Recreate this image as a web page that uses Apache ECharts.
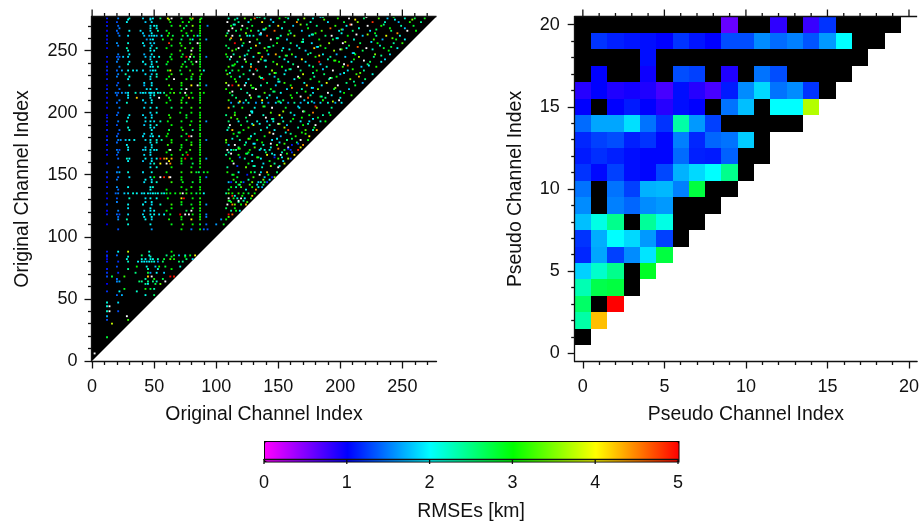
<!DOCTYPE html>
<html><head><meta charset="utf-8">
<style>html,body{margin:0;padding:0;background:#fff}#c{width:922px;height:522px}</style>
<script src="https://cdn.jsdelivr.net/npm/echarts@6/dist/echarts.min.js"></script>
</head><body><div id="c"></div>
<script>
const NA = -1;
const colorStops = ['#ff00ff','#0000ff','#00ffff','#00ff00','#ffff00','#ff0000'];
const colorbarTicks = [0,1,2,3,4,5];
const originalMajorTicks = [0,50,100,150,200,250];
const originalMinorTicks = [10,20,30,40,60,70,80,90,110,120,130,140,160,170,180,190,210,220,230,240,260,270];
const pseudoMajorTicks = [0,5,10,15,20];
const pseudoMinorTicks = [1,2,3,4,6,7,8,9,11,12,13,14,16,17,18,19];
const originalCorners = [[-0.5,-0.5],[277.5,277.5],[-0.5,277.5]];

const pseudoRow1 = [NA];
const pseudoRow2 = [2.35,4.25];
const pseudoRow3 = [2.6,NA,5];
const pseudoRow4 = [2.3,2.7,2.75,NA];
const pseudoRow5 = [1.82,2.2,2.45,NA,2.85];
const pseudoRow6 = [1.15,1.65,1.25,1.55,1.9,2.75];
const pseudoRow7 = [1.2,1.68,2,1.85,1.6,1.25,NA];
const pseudoRow8 = [1.75,2.1,2.45,NA,2.4,2.1,NA,NA];
const pseudoRow9 = [1.55,NA,1.5,1.4,1.55,1.6,NA,NA,NA];
const pseudoRow10 = [1.45,NA,1.45,1.25,1.7,1.72,1.5,2.75,NA,NA];
const pseudoRow11 = [1.2,1.03,1.25,1.05,1.02,1.28,1.7,1.85,2,2.45,NA];
const pseudoRow12 = [1.1,1.18,1.12,1.05,1.02,1.02,1.42,1.12,1.1,1.38,NA,NA];
const pseudoRow13 = [1.15,1.25,1.3,1.12,1.2,1.02,1.5,1.15,1.4,1.45,1.8,NA];
const pseudoRow14 = [1.42,1.65,1.65,1.88,1.45,1.2,2.35,1.6,1.25,NA,NA,NA,NA,NA];
const pseudoRow15 = [1,NA,1,1.1,1,0.85,1.05,1,NA,1.45,1.75,NA,2,2,3.7];
const pseudoRow16 = [0.85,1,0.88,0.92,0.88,0.72,1.05,0.85,0.72,1.1,1.55,1.85,1.45,1.55,1.2,NA];
const pseudoRow17 = [NA,1,NA,NA,0.95,NA,1.3,1.25,NA,0.88,NA,1.45,1.3,NA,NA,NA,NA];
const pseudoRow18 = [NA,NA,NA,NA,1.05,NA,NA,NA,NA,NA,NA,NA,NA,NA,NA,NA,NA,NA];
const pseudoRow19 = [NA,1.2,1.12,1.08,1.05,1,1.2,1.08,1,1.3,1.3,1.55,1.42,1.5,1.33,1.6,2,NA,NA];
const pseudoRow20 = [NA,NA,NA,NA,NA,NA,NA,NA,NA,0.6,NA,NA,0.82,NA,0.78,1.2,NA,NA,NA,NA];

// each row: channel y, then pairs of channel x and RMSE (above 5 is off the scale, drawn white)
const originalRowsTop = [
[276,12,1.1,21,1.5,30,2.2,41,1.9,47,1.8,49,2,55,2.6,61,4,64,6,72,2.8,79,3.1,81,4.3,88,2.9,110,2.3,117,2.1,123,3.4,131,4.6,139,2.4,151,3,158,2.2,171,3.6,178,2.1,198,3.1,207,6,219,2.6,231,3.3,238,1.8,252,2.2,260,2.7,268,2.9],
[273,12,1,20,1.3,28,2,43,1.8,48,1.9,63,3,73,3,78,2.9,87,3,109,6,118,2.4,126,2,137,3.9,146,1.9,155,2.6,165,4.4,176,2.3,190,1.9,203,2.7,214,3.5,226,4.8,236,2.2,247,1.7,256,3.1,265,2.4],
[270,12,1.1,21,1.4,47,1.9,50,2,52,2.1,64,2.9,71,3.2,76,2.6,81,3.5,87,3,93,1.5,112,3,121,6,129,2.8,143,2.2,150,4.1,162,1.8,181,2.5,196,3.2,205,2,222,6,233,3.1,249,2.3,259,2.8],
[266,12,1,20,1.4,30,2,39,1.9,47,1.9,53,2.3,60,2.8,72,3,80,3.2,87,3.1,110,6,116,2.6,128,3.1,134,2.2,147,4.6,159,2.9,169,1.8,185,3.3,199,2.1,210,2.6,224,1.9,241,2.6,254,6,261,3],
[262,12,1.1,22,1.5,29,1.9,42,1.8,46,1.7,48,1.9,50,2,52,1.8,56,2,61,3.1,65,2.7,73,2.9,77,2.2,82,3,85,1.9,87,2.9,108,3.3,113,6,119,2.5,125,2.2,127,2,130,2.3,141,4.8,152,2.2,163,3.6,175,2,188,2.6,193,6,206,3,218,1.8,229,2.4,237,3.9,248,2.1],
[259,12,1,44,1.6,47,1.8,49,2,57,2.8,64,3.2,72,2.5,79,3,81,2,87,3,92,1.6,111,2.7,120,4,133,3.1,144,6,157,1.8,170,2.3,183,3,194,2.8,211,2.2,227,3.2,234,1.7,245,2.9,252,2],
[256,12,1.2,20,1.6,29,2.1,41,2,47,1.9,50,1.8,62,4.8,71,3.1,79,2.8,85,6,87,3,115,5,122,2.9,135,2.2,149,3.1,160,2.6,177,1.9,191,3.6,202,6,216,2.7,230,3,243,2.4,250,3.2],
[252,12,1,28,2.3,47,2,52,2.2,60,3,75,3.2,81,3.2,87,2.9,110,2.6,118,6,128,2.5,139,3.4,154,2,167,2.2,179,4.2,188,2.9,205,2.1,221,6,235,2.8,246,2],
[247,21,1.5,30,2,42,1.7,48,2,64,3,73,2.8,80,3.4,87,3,108,3.1,114,2.3,125,2.6,142,1.9,148,4.3,161,3.2,174,2.4,186,2,197,1.7,212,3,228,3.5,240,1.9],
[245,12,1.1,20,1.3,22,1.4,25,1.8,29,1.9,43,1.8,47,1.8,50,2,54,2.1,63,2.7,72,2.9,76,5,79,6,82,2.8,87,3.1,92,1.5,109,2.8,112,6,119,3.3,130,2.1,137,4.5,151,2.5,164,1.9,180,3.1,192,2.4,204,1.8,215,3.7,227,2.5],
[241,12,1,20,1.5,30,2,41,2,48,1.9,52,2,61,3,75,2.5,80,2.9,84,6,87,2.8,117,2.4,124,3.2,134,6,146,2.9,158,2.2,172,1.9,183,4.9,199,3,209,2.1,224,2.7,233,2],
[237,12,1.1,22,1.5,47,2,49,1.9,53,2.4,72,3.1,76,2.9,87,3,110,3.3,121,2,128,4.4,140,2.3,153,3.1,166,6,178,2.6,189,2.2,202,3.2,217,1.8,229,3.1],
[234,12,1.2,20,1.4,24,1.7,29,2,33,2,36,1.9,41,1.9,47,1.7,49,2,51,2,61,2.9,63,4,71,2.7,79,3.1,87,3.2,90,2,108,2.9,113,2.6,118,3,127,2.2,133,2.4,145,3.6,156,2,168,2.6,181,3,194,6,206,1.9,219,2.4],
[231,12,1,21,1.5,27,2.3,43,1.9,48,1.8,52,2.2,64,3.2,72,2.9,81,3.3,88,3,109,3.4,122,2.7,130,6,143,2.4,155,2.1,170,3.8,187,2.6,200,1.7,213,3.2,226,2.1],
[227,12,1.1,29,2,47,1.9,60,2.8,66,6,76,3.1,80,2.5,87,2.8,115,3,126,2.1,138,5,150,2.7,163,2,176,2.9,191,2.3,208,3.4,220,2.6],
[222,12,1,20,1.4,30,2.1,42,1.7,48,2,62,3.3,72,3,80,4,85,6,87,3.1,92,1.6,110,6,113,5,118,4,123,6,128,3.2,136,2.2,148,1.8,160,3,173,4.2,185,2,198,6,212,2.8],
[219,12,1.1,22,1.4,44,1.9,47,2,52,1.9,64,3.1,72,2.6,76,6,87,3,108,3.1,120,2.4,132,6,144,2.9,157,1.9,169,2.3,182,3.5,195,2.7,207,1.8],
[216,12,1.2,19,1.5,21,1.4,24,1.6,27,1.7,29,2,35,2.2,39,1.8,41,2,43,1.9,46,1.8,47,2,48,1.9,50,2,53,2.1,55,2,58,2.4,63,3,66,3.3,71,2.9,75,6,80,3,87,3.2,90,3,111,3,125,2.3,139,3.3,152,2,165,2.7,178,1.9,190,6,203,3],
[212,12,1,29,1.9,36,4.2,47,1.9,54,6,62,2.8,73,3,78,4.4,81,3,87,2.9,116,2.6,128,3.3,141,2.1,149,1.8,161,3.1,174,4.7,188,2.5,200,2.2],
[208,12,1.1,20,1.4,28,2.2,43,1.8,48,2,60,3,72,3.2,76,2.7,87,3,112,1.6,118,1.9,122,1.7,126,2.2,132,1.6,137,1.9,142,1.5,148,1.8,152,2,158,1.6,163,2.4,168,1.7,174,2,179,1.6,184,1.9,190,2.2,196,1.7,201,2],
[204,12,1,22,1.5,42,1.9,47,2,52,2,64,2.6,72,2.8,80,3.2,87,3.1,110,4.3,121,3,131,2.1,145,6,156,2.8,167,2,181,3.6,193,2.4]];
const originalRowsMiddle = [
[198,12,1,20,1.4,30,2,41,1.9,48,1.8,62,3.1,76,2.8,87,3,108,2.5,115,3.4,127,6,138,2.2,151,4,163,1.9,175,2.9,186,2.3,192,3],
[193,12,1.1,21,1.5,28,2.2,43,1.9,47,2,50,1.9,55,2.3,61,3,72,2.9,80,3,87,3.2,92,1.6,110,2.6,118,2,125,2.4,133,2.1,141,1.9,146,2,154,2.3,160,2.6,168,2,175,1.9,184,2.2,188,3],
[190,12,1,20,1.3,42,1.8,47,2,52,2.1,64,3,79,3.1,87,3,111,6,120,2.9,130,3.8,143,2.4,157,1.8,170,3,180,6],
[186,12,1.1,22,1.4,30,2.2,48,2,62,2.7,73,3.2,81,2.5,87,2.9,109,2.2,113,4.2,122,3,136,2.3,147,2,158,4.7,172,3.3,178,2.2,181,4.3],
[181,12,1,20,1.4,41,1.9,47,1.8,49,2,54,2,60,3,72,2.8,78,5,80,6,87,3,117,2.7,128,2,139,2.9,152,1.7,164,3.1,175,4],
[178,12,1.2,21,1.5,23,1.6,27,1.8,30,2,34,2,43,1.9,47,2,52,2.1,56,2.4,64,3,76,2.9,87,3.1,92,1.5,108,3.5,119,2.4,133,3,145,1.9,157,2.5,168,6,174,3],
[174,12,1,28,2,48,1.9,61,3.2,72,3,80,3.3,87,2.8,110,1.7,115,6,123,2.6,138,2.2,149,3.3,161,1.1,170,4.4],
[170,12,1.1,20,1.5,22,1.3,29,1.9,41,1.8,43,1.9,47,2,50,1.9,52,2,62,2.8,63,6,71,3,79,3.2,87,2.9,109,6,112,2,114,2.8,116,2.3,127,3,135,1.9,139,2,143,2.2,155,2.7,160,1.2,166,4.9],
[166,12,1,20,1.3,42,1.9,47,1.9,64,3,73,2.9,77,5,87,3.1,108,2.4,118,3.1,129,2.1,141,3.9,147,1.9,152,6,163,4.1],
[163,21,1.4,28,2.2,30,2,43,2,48,1.8,52,2,55,5,58,4.6,60,4,64,4.3,72,3,75,5,80,3,87,3,92,1.6,111,3,123,2.4,136,2,150,3.2,158,3.6,160,1.2],
[159,12,1.1,47,1.9,50,2.2,55,4,60,6,63,4.5,72,2.8,81,2.6,87,3.1,114,6,126,2.9,138,1.9,147,2.4,155,3.7],
[152,12,1.2,20,1.5,22,1.7,29,2.1,41,1.9,48,2.1,60,3,72,3.1,80,3.3,84,2.8,86,2.6,90,2.8,93,3,109,3.1,118,2,128,3,131,2.4,136,1.9,141,4.2,149,2.6],
[148,12,1.1,21,1.4,30,1.9,47,2,50,3,55,6,58,4.9,62,4.5,63,6,72,3,87,3,92,1.4,117,2.8,130,3.2,139,1.8,145,1.1,147,3.6],
[144,12,1,42,1.9,48,2,52,2.2,64,3.2,73,2.9,81,2.8,87,2.9,110,1.8,112,1.1,116,2.6,120,3,122,1.3,129,3.4,134,1.9,136,2.4,139,2.8,141,1.2],
[140,12,1.1,20,1.6,29,2,47,2,49,2.2,72,3,80,3.1,87,3,112,3,116,2.4,120,3.3,129,3.1,134,2.2,137,1.7],
[135,12,1.1,19,1.4,21,1.5,26,1.8,29,1.9,33,2.1,36,2,40,1.9,42,2,45,2,47,1.9,49,2,51,2.1,53,2,56,2.3,58,1.9,60,2.8,63,3,67,2.9,71,3.2,73,6,76,3.1,80,3,84,2.6,87,3,90,2,108,2.4,110,3.4,113,3,118,3.2,122,2.9,126,2.7,131,3],
[131,12,1,20,1.3,30,2.2,43,1.9,47,2,52,2,61,3,72,4,74,5,81,3,87,3.1,110,6,114,3.1,117,2.2,120,6,123,2,128,3],
[126,12,1.2,29,2,41,2,48,1.9,55,2.3,64,3.2,72,2.8,80,2.9,87,3.2,92,1.6,109,6,113,4.5,115,3.4,120,3,124,4.3],
[121,12,1,21,1.5,42,1.8,47,1.9,50,2,60,3,76,2.7,80,6,87,2.9,112,2.4,116,3,119,2],
[118,12,1.1,20,1.4,22,1.3,29,1.9,41,1.9,47,2,50,2,54,1.9,58,2,63,2.8,71,5,75,6,78,6,81,3,87,3,92,1.5,110,5,113,4.6],
[114,21,1.6,28,2.3,43,2,48,1.9,62,3.1,72,3,80,4,87,3.1,104,1.6,108,3],
[110,12,1,29,2.1,47,2,64,2.9,73,3.2,81,3,87,2.8,92,1.4,100,1.6,106,2.9],
[106,21,1.3,48,1.6,72,3,80,1.5,87,3,90,1.4,93,1.3]];
const originalRowsLower = [
[88,12,1.1,21,2,29,3.8,46,2.2,64,3],
[85,12,1.2,20,1.4,40,2.6,46,2.1,60,2.5,66,2.7,70,1.7,75,2.1,79,2.9,83,4],
[82,12,1,28,2.1,40,2.1,43,2,47,2,49,2.1,53,2.3,58,2.8,63,3.3,66,3.1,76,2.6,81,1.9],
[80,12,1.1,21,1.2,29,2.2,37,2,40,2,42,2,44,1.9,46,2,48,2.2,50,2.1,53,1.6,57,2.6,70,2.6,73,2.4],
[76,20,1.3,36,3,44,2.1,51,1.8,54,3.1,59,2.8,71,2.2],
[71,12,1.2,21,1.2,35,2.5,45,2.8,47,1.6,52,2,58,1.8],
[68,12,1.3,16,2.7,26,3.2,45,4.2,48,6,63,5,66,4.9],
[64,20,1.5,22,1.7,38,2.6,40,2.4,45,2.5,49,2.5,52,2.2,59,6],
[62,12,1,43,2.4,45,2,51,2.7,55,3.4],
[58,26,2.9,43,3.1,47,2.8,50,2.3],
[56,12,1.2,22,2,36,2.2],
[53,20,1.4,24,1.7,43,2.1,50,2.6],
[47,12,2.1,21,1.9],
[44,14,6,12,2.1],
[40,12,2.2,21,1.3,14,6],
[36,12,1.7,28,6],
[33,12,1.3,29,3.2],
[30,16,3.8],
[19,12,2.8],
[6,2,6]];
// further rows read between the ones above
const originalRowsInterleaved = [
[275,29,2,47,2,62,3.5,80,3,87,3.2,115,2.6,128,3,144,1.8,166,2.4,187,3.3,212,4.1,244,2,258,3.5],
[268,22,1.5,47,2,52,2,74,2.7,87,3,113,6,125,2.7,140,3.2,153,2.1,174,2.9,192,4.6,215,2.2,240,3,252,1.8],
[264,21,1.4,41,1.8,48,2,62,3,76,3,87,3,109,2.4,124,3.4,136,6,160,2.3,180,3.1,201,2.1,228,2.9,246,4.4],
[254,21,1.5,42,1.9,48,1.9,64,2.9,72,3.1,87,3.1,108,2.7,121,2,132,4.1,146,2.6,165,1.9,184,3.3,207,2.8,232,2.2],
[250,29,2.1,47,2,50,2,71,3.2,80,6,87,3,113,3.4,126,2.3,141,3,153,2.4,172,1.8,195,3.6,218,2.7,239,3],
[243,21,1.5,47,1.9,64,3,78,2.8,87,3,111,2.2,123,6,136,3.1,155,2,169,4,190,2.3,211,3.1,236,1.9],
[239,29,2.1,43,2,48,2,60,2.7,73,3,81,3,87,3,115,3,128,2.1,149,3.5,162,2.5,184,1.8,203,6,222,2.6],
[229,20,1.5,30,2,47,2,52,2.2,62,3,80,3,87,3.1,112,2.9,119,2.2,135,3.4,147,1.8,166,6,179,2.4,197,3,215,4.3],
[224,21,1.3,42,1.9,48,1.9,72,3.1,87,2.9,108,3.6,124,2,141,2.6,155,3.2,171,2.1,189,3.9,205,2.5,218,1.7],
[214,20,1.4,29,2,47,2,50,2.1,60,3.1,76,3,87,3,113,2.5,127,6,143,2.1,160,3,176,2.4,193,1.9,209,3.2],
[210,22,1.5,41,1.9,48,2,63,2.9,72,3,87,3.2,110,3.2,124,2.3,137,4,154,2.6,171,1.9,186,3.1,199,6],
[200,21,1.4,47,1.9,52,2.1,71,3,80,3,87,3,115,2.9,129,2,144,3.3,160,2.2,178,4.5,191,2.4],
[196,12,1.1,29,2,43,1.9,48,2,63,3.2,76,2.9,87,3.1,112,3.3,124,2.6,140,6,153,2.1,169,3,182,2.8],
[188,29,2.1,47,2,50,1.9,72,3,87,3,110,2.4,126,3.2,141,2.1,155,3.7,166,2.3,179,2.9],
[183,21,1.3,42,1.9,48,2,61,3,76,2.8,87,3.1,114,3,131,2.3,146,6,160,2.5,172,3.2],
[176,20,1.4,47,2,52,2.1,64,3.1,80,3,87,3,108,3.1,124,2.2,137,3,151,1.9,165,2.6],
[172,29,2,43,1.9,48,2,72,2.9,87,3.2,118,2.6,131,3.3,144,2.1,158,6,168,3.9],
[168,21,1.5,47,1.9,60,3,76,3,87,3,110,2.3,126,3,140,2.6,153,2.2,161,1.2],
[161,29,2,41,1.8,48,2,62,4,72,3,87,3.1,113,3.1,129,2,143,2.9,154,1.9],
[156,21,1.4,47,2,52,2.1,64,3,80,3,87,3,109,2.4,124,3.4,137,2.2,150,6],
[146,20,1.5,43,2,48,1.9,72,3,87,2.9,114,3.2,126,2.3,138,3.5,143,2],
[138,21,1.4,47,2,60,3,76,3,87,3,110,2.7,124,2.1,132,4.4],
[128,20,1.5,43,1.9,48,2,72,3,87,3,112,3.1,118,2.5,125,3.2],
[123,29,1.9,47,2,64,3,81,3,87,3.1,108,2.7,115,3],
[116,21,1.4,42,2,48,2,72,3,87,3,92,1.5,110,3.3],
[84,12,1.1,29,2.1,47,2.2,64,2.8,75,3],
[74,12,1.1,29,2.4,45,2.3,53,2.1,64,3],
[66,20,1.4,43,2.3,50,3.1,57,2.7]];
// short clusters and streaks seen in the right-hand block
const originalRowsClusters = [
[277,133,2.2,135,2.6,156,3.1,184,1.9,186,2.4,221,6,243,3],
[271,114,2.1,115,2.3,168,3.5,173,2.7,208,4.8,209,6,235,2.5],
[267,120,3,138,2,139,2.2,201,3.4,202,1.7,229,2.6],
[263,135,1.8,136,1.9,158,3.2,177,2.1,178,2.3,213,6,222,3.6],
[260,112,4.4,149,2.4,150,2.7,197,2,198,2.2,242,3.3],
[257,127,6,169,2.8,170,2.1,204,3.5,225,1.9],
[253,142,2.3,143,2.5,181,1.7,182,2,214,4.6,241,2.7],
[251,116,3.1,159,2.1,200,6,201,3.2,226,2.2],
[248,134,3.7,135,2.9,176,2.5,210,1.8,211,2.1],
[246,123,2,156,3.3,157,2.6,183,4.1,233,2.4],
[242,139,1.9,140,2.2,195,3,196,3.2,219,6],
[238,113,2.6,114,3,175,2.2,206,4.7,223,2],
[235,132,5,159,2.9,160,2.3,186,1.8,210,3.1],
[232,111,2.2,147,3.6,148,2.8,178,2.5,203,2.1,216,3.3],
[228,136,2.1,137,2.4,167,3.2,192,6,193,2.7],
[225,116,3.3,150,1.9,151,2.2,183,3,211,2.4],
[220,129,2.7,130,3.1,161,4.4,177,2,178,1.8,196,3.5],
[217,113,6,146,2.4,147,2.7,172,3.1,200,2],
[213,134,2.1,135,2.5,168,6,184,2.9,185,2.3],
[209,119,4,150,3,151,2.6,177,2.2,194,3.7],
[205,114,2.4,138,3.3,139,2.7,166,1.8,180,4.9],
[201,128,2.2,129,2,154,3.6,170,6,171,2.8],
[195,117,3.2,145,2.2,146,2.5,162,3,178,2],
[191,129,1.9,135,2.1,150,6,151,3.4,174,2.3],
[184,118,2.5,119,2.9,143,4.2,156,2.1,169,3],
[179,113,2.2,126,3.5,127,3,149,2,161,2.7],
[175,130,2,131,1.9,144,6,155,3.2,166,1.3],
[171,118,3.3,119,3,136,2.3,150,4.5,158,1.2],
[167,112,6,124,3,125,2.5,145,2.1,157,3.1],
[164,119,1.4,133,3.2,134,2.7,147,1.1,153,2],
[157,117,1.2,130,2.4,131,2.2,144,3.5,151,2.1],
[150,113,2.6,114,3,125,1.1,135,6,142,3],
[142,118,2.9,119,2.4,127,3.2,133,1.9,138,2.6],
[133,113,4.9,115,2.1,121,3,129,4.2],
[129,110,3.1,111,2.6,118,6,122,2.4]];

function flattenOriginal(rows){
  const out=[];
  rows.forEach(function(r){for(let i=1;i<r.length;i+=2) out.push([r[i],r[0],r[i+1]]);});
  return out;
}
const pseudoRows=[pseudoRow1,pseudoRow2,pseudoRow3,pseudoRow4,pseudoRow5,pseudoRow6,pseudoRow7,pseudoRow8,pseudoRow9,pseudoRow10,pseudoRow11,pseudoRow12,pseudoRow13,pseudoRow14,pseudoRow15,pseudoRow16,pseudoRow17,pseudoRow18,pseudoRow19,pseudoRow20];
const pseudoCells=[];
pseudoRows.forEach(function(row,i){row.forEach(function(v,x){pseudoCells.push([x,i+1,v]);});});
const originalCells=[].concat(flattenOriginal(originalRowsTop),flattenOriginal(originalRowsMiddle),flattenOriginal(originalRowsLower),flattenOriginal(originalRowsInterleaved),flattenOriginal(originalRowsClusters));

const FONT='"Liberation Sans", Arial, sans-serif';
const TXT='#111';
function fillFor(v,api){ return v>5 ? '#ffffff' : (v<0 ? '#000000' : api.visual('color')); }
function pseudoCellItem(params,api){
  const x=api.value(0),y=api.value(1),v=api.value(2);
  const a=api.coord([x-0.5,y+0.5]),b=api.coord([x+0.5,y-0.5]);
  const l=Math.round(a[0]),t=Math.round(a[1]);
  return {type:'rect',shape:{x:l,y:t,width:Math.round(b[0])-l,height:Math.round(b[1])-t},style:{fill:fillFor(v,api)}};
}
const originalCellHalf=0.75;
function originalCellItem(params,api){
  const x=api.value(0),y=api.value(1),v=api.value(2);
  const a=api.coord([x-originalCellHalf,y+originalCellHalf]),b=api.coord([x+originalCellHalf,y-originalCellHalf]);
  return {type:'rect',shape:{x:a[0],y:a[1],width:b[0]-a[0],height:b[1]-a[1]},style:{fill:fillFor(v,api)}};
}
function triangleItem(params,api){
  if(params.dataIndex!==0) return null;
  const pts=originalCorners.map(function(c){return api.coord(c);});
  return {type:'polygon',shape:{points:pts},style:{fill:'#000'}};
}
const lineStyle={color:'#111',width:1.3};
function tickSeries(xi,yi,values,atY,offset){
  return {type:'custom',xAxisIndex:xi,yAxisIndex:yi,silent:true,z:6,clip:false,
    data:values.map(function(v){return [v];}),encode:{x:0},
    renderItem:function(params,api){
      const p=api.coord([api.value(0),atY]);
      return {type:'line',shape:{x1:p[0],y1:p[1],x2:p[0],y2:p[1]+offset},style:{stroke:lineStyle.color,lineWidth:lineStyle.width}};
    }};
}
function spineSeries(xi,yi,range,atY){
  return {type:'custom',xAxisIndex:xi,yAxisIndex:yi,silent:true,z:6,clip:false,
    data:[[range[0]]],encode:{x:0},
    renderItem:function(params,api){
      const a=api.coord([range[0],atY]),b=api.coord([range[1],atY]);
      return {type:'line',shape:{x1:a[0],y1:a[1],x2:b[0],y2:b[1]},style:{stroke:lineStyle.color,lineWidth:lineStyle.width}};
    }};
}
function oneAxis(grid,pos,range,values,len,withLine,labelMargin,name,nameGap){
  const a={type:'value',gridIndex:grid,position:pos,min:range[0],max:range[1],silent:true,z:5,
    splitLine:{show:false},
    axisLine:{show:withLine,onZero:false,lineStyle:lineStyle},
    axisTick:{show:len>0,customValues:values,length:len,lineStyle:lineStyle},
    axisLabel:labelMargin?{show:true,customValues:values,margin:labelMargin,fontFamily:FONT,fontSize:18,color:TXT}:{show:false}};
  if(name){
    a.name=name;
    a.nameLocation='middle';
    a.nameGap=nameGap;
    a.nameTextStyle={fontFamily:FONT,fontSize:19.4,color:TXT};
  }
  return a;
}
const originalRange=[-0.5,277.5], pseudoRange=[-0.5,20.5];
const xAxes=[
  oneAxis(0,'bottom',originalRange,originalMajorTicks,7,true,17,'Original Channel Index',44),
  oneAxis(0,'bottom',originalRange,originalMinorTicks,3.5,false,0),
  oneAxis(1,'bottom',pseudoRange,pseudoMajorTicks,7,true,17,'Pseudo Channel Index',44),
  oneAxis(1,'bottom',pseudoRange,pseudoMinorTicks,3.5,false,0),
  oneAxis(2,'bottom',[0,5],colorbarTicks,0,true,15,'RMSEs [km]',43)
];
const yAxes=[
  oneAxis(0,'left',originalRange,originalMajorTicks,7,true,14,'Original Channel Index',59),
  oneAxis(0,'left',originalRange,originalMinorTicks,3.5,false,0),
  oneAxis(1,'left',pseudoRange,pseudoMajorTicks,7,true,15,'Pseudo Channel Index',50),
  oneAxis(1,'left',pseudoRange,pseudoMinorTicks,3.5,false,0),
  Object.assign(oneAxis(2,'left',[0,1],[],0,false,0),{show:false})
];
const chart=echarts.init(document.getElementById('c'),null,{renderer:'canvas'});
chart.setOption({
  animation:false,
  backgroundColor:'#fff',
  tooltip:{show:false},
  grid:[
    {left:91.5,top:16.5,width:345,height:345},
    {left:574.7,top:16.5,width:345.3,height:345},
    {left:264,top:441,width:414,height:20}
  ],
  xAxis:xAxes,
  yAxis:yAxes,
  visualMap:{
    type:'continuous',min:0,max:5,seriesIndex:[1,2],dimension:2,
    orient:'horizontal',left:264,top:441,itemWidth:20,itemHeight:414,
    calculable:false,hoverLink:false,text:null,padding:0,
    borderColor:'#000',borderWidth:1.5,
    inRange:{color:colorStops},outOfRange:{color:'#000'}
  },
  series:[
    {type:'custom',xAxisIndex:0,yAxisIndex:0,silent:true,renderItem:triangleItem,data:originalCorners,encode:{x:0,y:1},z:1},
    {type:'custom',xAxisIndex:0,yAxisIndex:0,silent:true,renderItem:originalCellItem,data:originalCells,encode:{x:0,y:1},z:2},
    {type:'custom',xAxisIndex:2,yAxisIndex:2,silent:true,renderItem:pseudoCellItem,data:pseudoCells,encode:{x:0,y:1},z:2},
    spineSeries(0,0,originalRange,originalRange[1]),
    tickSeries(0,0,originalMajorTicks,originalRange[1],-7),
    tickSeries(0,0,originalMinorTicks,originalRange[1],-3.5),
    spineSeries(2,2,pseudoRange,pseudoRange[1]),
    tickSeries(2,2,pseudoMajorTicks,pseudoRange[1],-7),
    tickSeries(2,2,pseudoMinorTicks,pseudoRange[1],-3.5),
    tickSeries(4,4,colorbarTicks,0,5)
  ]
});
</script>
</body></html>
